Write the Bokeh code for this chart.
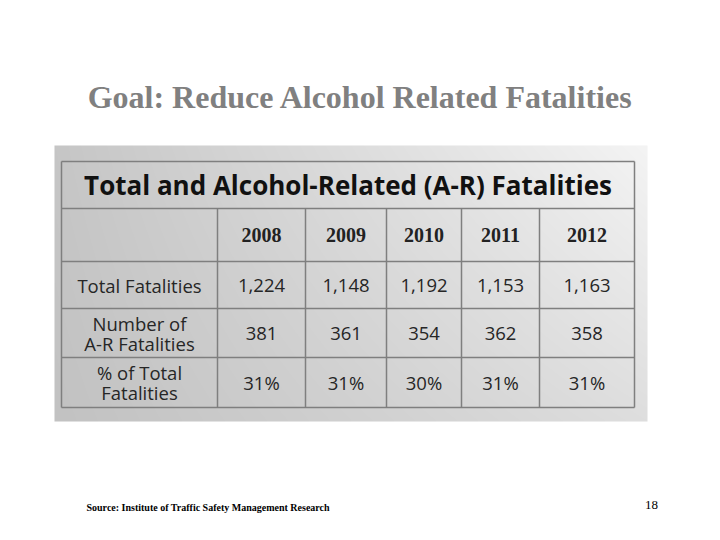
import numpy as np
from bokeh.plotting import figure
from bokeh.models import Range1d
from bokeh.embed import file_html
from bokeh.resources import INLINE
from bokeh.core.properties import value

# ---- data ----
years = ["2008", "2009", "2010", "2011", "2012"]
total_fatalities = [1224, 1148, 1192, 1153, 1163]
ar_fatalities = [381, 361, 354, 362, 358]
pct_of_total = [31, 31, 30, 31, 31]
row_labels = ["Total Fatalities", "Number of\nA-R Fatalities", "% of Total\nFatalities"]
slide_title = "Goal: Reduce Alcohol Related Fatalities"
table_title = "Total and Alcohol-Related (A-R) Fatalities"
source_note = "Source: Institute of Traffic Safety Management Research"
page_number = "18"

# ---- layout (screen-pixel coordinates) ----
p = figure(width=712, height=532, x_range=Range1d(0, 712), y_range=Range1d(532, 0),
           output_backend="svg", toolbar_location=None, min_border=0)
p.axis.visible = False
p.grid.visible = False
p.outline_line_color = None
p.background_fill_color = "white"
p.border_fill_color = "white"

# gradient background panel
bx0, bx1, by0, by1 = 54, 647, 145, 421
W, H = bx1 - bx0, by1 - by0
xf = np.linspace(0, 1, W)[None, :]
yf = np.linspace(0, 1, H)[:, None]
tl, tr, bl, br = 198, 244, 194, 222
v = tl * (1 - xf) * (1 - yf) + tr * xf * (1 - yf) + bl * (1 - xf) * yf + br * xf * yf
v = np.clip(v, 0, 255).astype(np.uint32)
img = ((255 << 24) | (v << 16) | (v << 8) | v).astype(np.uint32)
p.image_rgba(image=[img], x=bx0, y=by0, dw=W, dh=H)

col_edges = [61, 217, 305, 386, 461, 539, 634]
row_edges = [161, 208, 261, 308, 357, 407]

# grid lines
p.segment(x0=[col_edges[0]] * len(row_edges), x1=[col_edges[-1]] * len(row_edges),
          y0=row_edges, y1=row_edges, line_color="#7f7f7f", line_width=1.5)
vx = [col_edges[0], col_edges[-1]] + col_edges[1:-1]
vy0 = [row_edges[0], row_edges[0]] + [row_edges[1]] * (len(col_edges) - 2)
p.segment(x0=vx, x1=vx, y0=vy0, y1=[row_edges[-1]] * len(vx),
          line_color="#7f7f7f", line_width=1.5)

def mid(a, b):
    return (a + b) / 2

col_centers = [mid(col_edges[i], col_edges[i + 1]) for i in range(len(col_edges) - 1)]
row_centers = [mid(row_edges[i], row_edges[i + 1]) for i in range(len(row_edges) - 1)]

# slide title
p.text(x=[360], y=[96], text=[slide_title], text_font=value("Liberation Serif"),
       text_font_style="bold", text_font_size="32px", text_color="#808080",
       text_align="center", text_baseline="middle")

# table title
p.text(x=[mid(col_edges[0], col_edges[-1])], y=[row_centers[0]], text=[table_title],
       text_font=value("Open Sans"), text_font_style="bold", text_font_size="26px",
       text_color="#111111", text_align="center", text_baseline="middle")

# years header
p.text(x=col_centers[1:], y=[row_centers[1]] * len(years), text=years,
       text_font=value("Liberation Serif"), text_font_style="bold", text_font_size="20px",
       text_color="#222222", text_align="center", text_baseline="middle")

# row labels
p.text(x=[col_centers[0]] * len(row_labels), y=row_centers[2:], text=row_labels,
       text_font=value("Open Sans"), text_font_size="18.5px", text_color="#262626",
       text_align="center", text_baseline="middle", text_line_height=0.8)

# values
rows = [[f"{v:,}" for v in total_fatalities],
        [f"{v}" for v in ar_fatalities],
        [f"{v}%" for v in pct_of_total]]
for r, vals in enumerate(rows):
    p.text(x=col_centers[1:], y=[row_centers[2 + r]] * len(vals), text=vals,
           text_font=value("Open Sans"), text_font_size="18.5px", text_color="#262626",
           text_align="center", text_baseline="middle")

# source note and page number
p.text(x=[86], y=[507], text=[source_note], text_font=value("Liberation Serif"),
       text_font_style="bold", text_font_size="10px", text_color="#000000",
       text_align="left", text_baseline="middle")
p.text(x=[651], y=[504], text=[page_number], text_font=value("Liberation Serif"),
       text_font_size="13px", text_color="#000000",
       text_align="center", text_baseline="middle")

open("out.html", "w").write(file_html(p, INLINE))
